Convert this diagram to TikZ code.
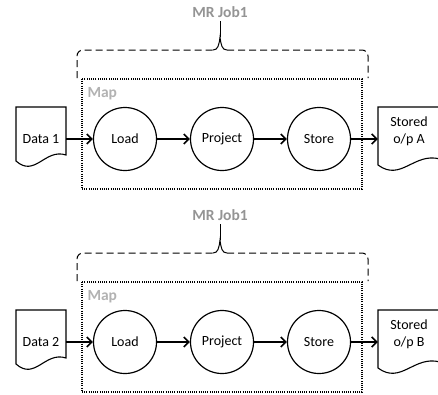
\documentclass[tikz,border=0pt]{standalone}
\usepackage{fontspec}
\setmainfont{Carlito}
\usetikzlibrary{arrows.meta}
\tikzset{
  stage/.style={draw, circle, line width=1.2pt, minimum size=63pt, inner sep=0pt},
  datadoc/.style={minimum width=50pt, inner sep=0pt},
  outdoc/.style={minimum width=62pt, inner sep=0pt, align=center},
  flow/.style={line width=1.6pt, -{Straight Barb[length=5pt,width=10pt,line width=1.6pt]}},
  docline/.style={line width=1.1pt},
  jobbrace/.style={line width=1pt, dash pattern=on 7pt off 4pt, rounded corners=6pt},
  mapbox/.style={line width=1.1pt, dash pattern=on 1pt off 1.2pt},
  caption/.style={text=black!42, font=\bfseries\fontsize{15.5}{18}\selectfont}
}
\begin{document}
\begin{tikzpicture}[x=1pt, y=-1pt, font=\fontsize{14}{17}\selectfont]
\useasboundingbox (0,0) rectangle (438,394);
\foreach \dy/\k/\lbl in {0/1/A, 203/2/B} {
\begin{scope}[yshift=-\dy pt]
\draw[mapbox] (82,79) rectangle (362,189);
\node[caption, text=black!30, anchor=west] (map\k) at (84,94) {Map};
\node[caption] (job\k) at (220,12) {MR Job1};
\draw[jobbrace] (77,78) |- (213,50);
\draw[jobbrace] (227,50) -| (368,78);
\draw[line width=1pt] (213,50) .. controls (218,50) and (219,45) .. (220,37) .. controls (221,45) and (222,50) .. (227,50);
\draw[line width=1pt] (220,37) -- (job\k.south);
\node[datadoc] (data\k) at (41,139) {Data \k};
\node[stage] (load\k) at (125,139) {Load};
\node[stage] (project\k) at (222,139) {Project};
\node[stage] (store\k) at (319,139) {Store};
\node[outdoc] (stored\k) at (409,131) {Stored\\o/p \lbl};
\draw[docline] (16,161) -- (16,107) -- (66,107) -- (66,155) .. controls (45,148) and (35,178) .. cycle;
\draw[docline] (378,165) -- (378,107) -- (440,107) -- (440,159) .. controls (414,152) and (401,182) .. cycle;
\draw[flow] (data\k) -- (load\k);
\draw[flow] (load\k) -- (project\k);
\draw[flow] (project\k) -- (store\k);
\draw[flow] (store\k.east) -- (store\k.east -| stored\k.west);
\end{scope}
}
\end{tikzpicture}
\end{document}
